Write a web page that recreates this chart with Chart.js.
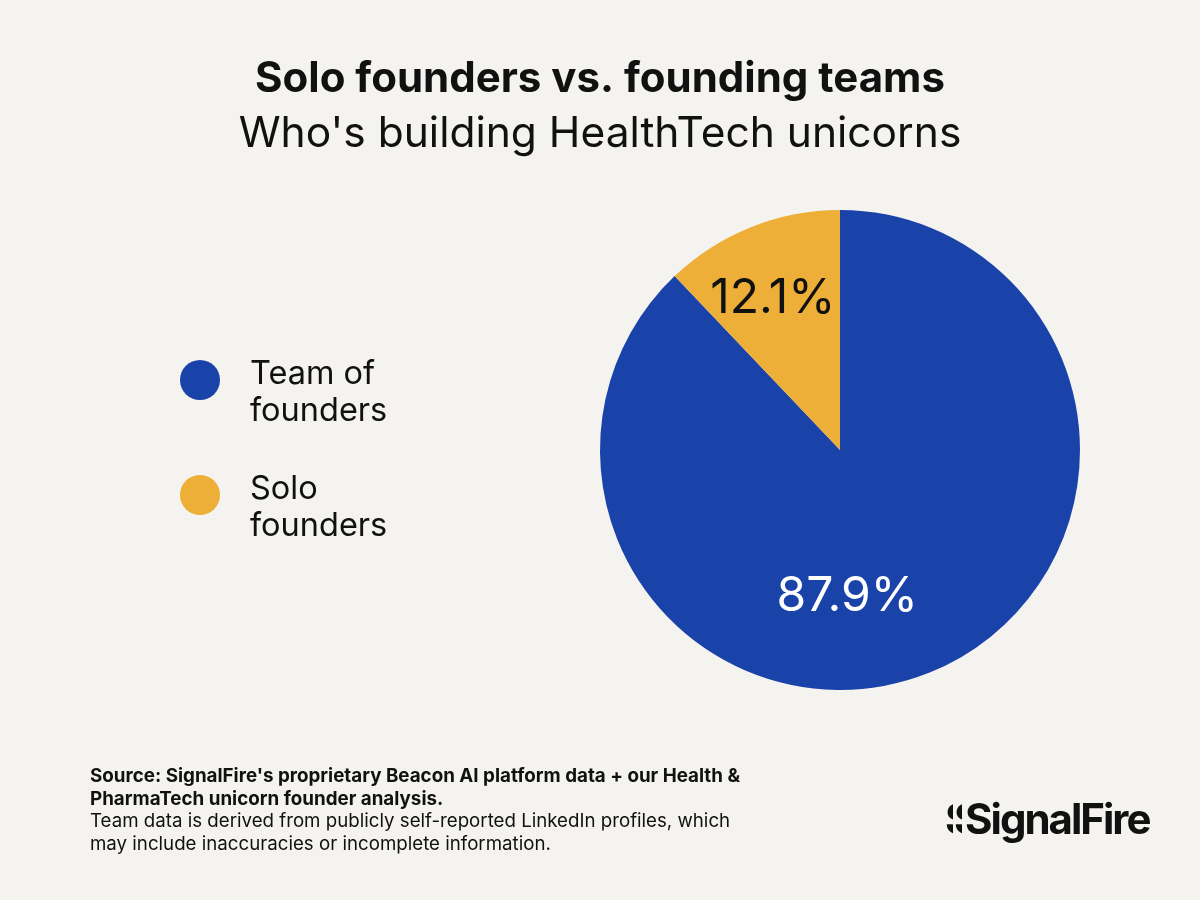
<!DOCTYPE html>
<html>
<head>
<meta charset="utf-8">
<script src="https://cdn.jsdelivr.net/npm/chart.js@4"></script>
<style>
  html, body { margin: 0; padding: 0; background: #f4f3ef; }
  #wrap { width: 1200px; height: 900px; }
</style>
</head>
<body>
<div id="wrap"><canvas id="chart" width="1200" height="900"></canvas></div>
<script>
// data
const labels = ['Team of founders', 'Solo founders'];
const legendLines = [['Team of', 'founders'], ['Solo', 'founders']];
const shares = [87.9, 12.1];
const colors = ['#1a43aa', '#edaf37'];
const labelColors = ['#ffffff', '#111111'];

const titleText = 'Solo founders vs. founding teams';
const subtitleText = "Who's building HealthTech unicorns";
const sourceBold = ["Source: SignalFire's proprietary Beacon AI platform data + our Health &", 'PharmaTech unicorn founder analysis.'];
const sourceNote = ['Team data is derived from publicly self-reported LinkedIn profiles, which', 'may include inaccuracies or incomplete information.'];

// where to put the % label inside each slice (fraction of radius, from the centre)
const labelSpots = [[0.03, 0.61], [-0.28, -0.63]];

const FONT = 'Inter, "Noto Sans", sans-serif';

// 🖌️ titles, legend, footer and logo
const decor = {
  id: 'decor',
  beforeDraw(chart) {
    const ctx = chart.ctx;
    ctx.save();
    ctx.fillStyle = '#f4f3ef';
    ctx.fillRect(0, 0, chart.width, chart.height);
    ctx.restore();
  },
  afterDraw(chart) {
    const ctx = chart.ctx;
    ctx.save();
    ctx.fillStyle = '#111111';
    ctx.textAlign = 'center';
    ctx.textBaseline = 'alphabetic';
    ctx.font = `bold 42px ${FONT}`;
    ctx.fillText(titleText, 600, 92);
    ctx.font = `42.5px ${FONT}`;
    ctx.fillText(subtitleText, 600, 147);

    // legend
    ctx.textAlign = 'left';
    labels.forEach((l, i) => {
      const y = 380 + i * 115;
      ctx.beginPath();
      ctx.fillStyle = colors[i];
      ctx.arc(200, y, 20, 0, Math.PI * 2);
      ctx.fill();
      ctx.fillStyle = '#111111';
      ctx.font = `32.5px ${FONT}`;
      legendLines[i].forEach((t, j) => ctx.fillText(t, 250, y + 4 + j * 37));
    });

    // footer
    ctx.font = `bold 18.8px ${FONT}`;
    sourceBold.forEach((t, j) => ctx.fillText(t, 90, 782 + j * 23));
    ctx.font = `18.7px ${FONT}`;
    sourceNote.forEach((t, j) => ctx.fillText(t, 90, 827 + j * 23));

    // logo
    ctx.font = `bold 42px ${FONT}`;
    if ('letterSpacing' in ctx) ctx.letterSpacing = '-2px';
    ctx.fillText('SignalFire', 965, 834);
    [945, 954].forEach(x => {
      ctx.save();
      ctx.beginPath();
      ctx.rect(x - 1, 790, 9, 60);
      ctx.clip();
      ctx.fillText('S', x, 834);
      ctx.restore();
    });
    ctx.restore();
  }
};

// 🔢 percentage labels on the slices
const sliceLabels = {
  id: 'sliceLabels',
  afterDatasetsDraw(chart) {
    const ctx = chart.ctx;
    const meta = chart.getDatasetMeta(0);
    ctx.save();
    ctx.font = `48px ${FONT}`;
    ctx.textAlign = 'center';
    ctx.textBaseline = 'middle';
    meta.data.forEach((arc, i) => {
      const r = arc.outerRadius;
      const x = arc.x + labelSpots[i][0] * r;
      const y = arc.y + labelSpots[i][1] * r;
      ctx.fillStyle = labelColors[i];
      ctx.fillText(shares[i].toFixed(1) + '%', x, y);
    });
    ctx.restore();
  }
};

new Chart(document.getElementById('chart'), {
  type: 'pie',
  data: {
    labels: labels,
    datasets: [{
      data: shares,
      backgroundColor: colors,
      borderWidth: 0
    }]
  },
  options: {
    responsive: false,
    animation: false,
    layout: { padding: { left: 600, right: 120, top: 210, bottom: 210 } },
    plugins: {
      legend: { display: false },
      tooltip: { enabled: false },
      title: { display: false }
    }
  },
  plugins: [decor, sliceLabels]
});
</script>
</body>
</html>
